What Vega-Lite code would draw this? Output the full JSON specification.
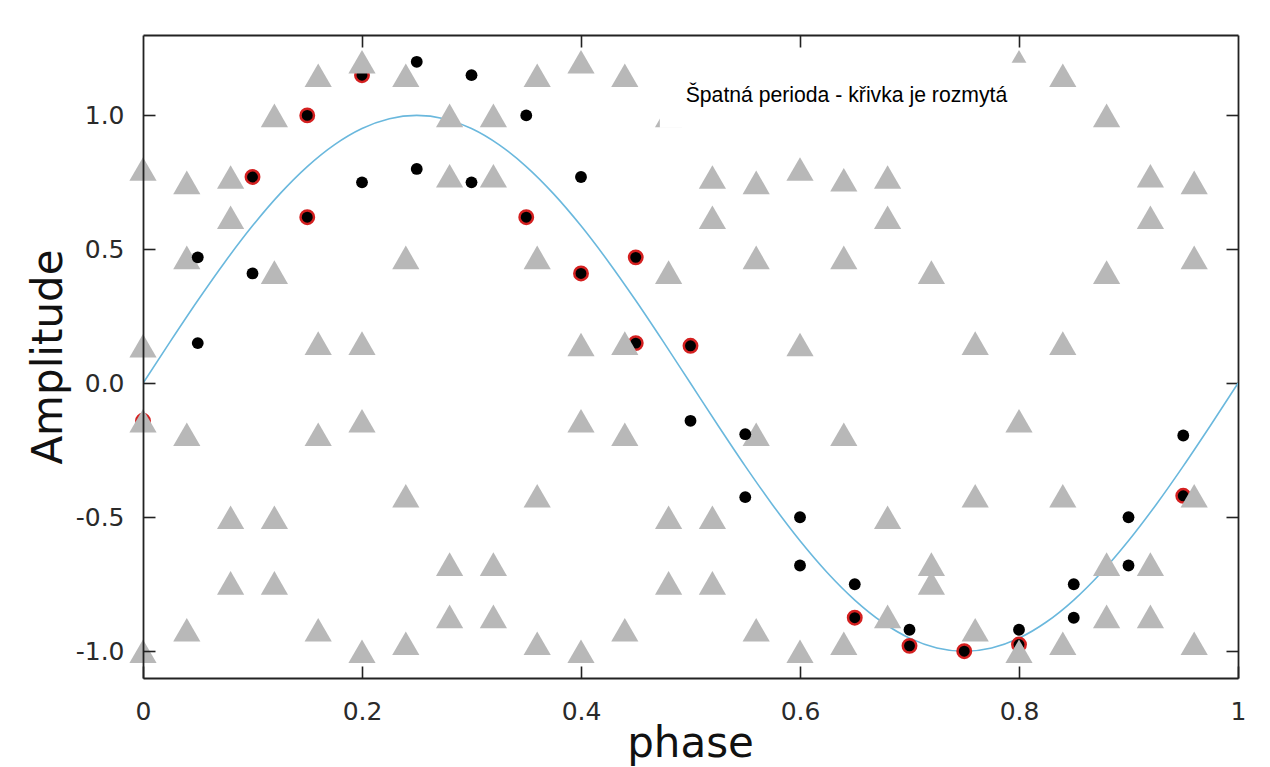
{
  "$schema": "https://vega.github.io/schema/vega-lite/v6.json",
  "width": 1095,
  "height": 643,
  "autosize": "none",
  "padding": {"left": 143, "top": 35, "right": 32, "bottom": 89},
  "background": "white",
  "config": {"view": {"stroke": null}, "font": "DejaVu Sans"},
  "datasets": {
    "curve": [
      {"phase": 0, "amp": 0}, {"phase": 0.025, "amp": 0.1564}, {"phase": 0.05, "amp": 0.309}, {"phase": 0.075, "amp": 0.454},
      {"phase": 0.1, "amp": 0.5878}, {"phase": 0.125, "amp": 0.7071}, {"phase": 0.15, "amp": 0.809}, {"phase": 0.175, "amp": 0.891},
      {"phase": 0.2, "amp": 0.9511}, {"phase": 0.225, "amp": 0.9877}, {"phase": 0.25, "amp": 1}, {"phase": 0.275, "amp": 0.9877},
      {"phase": 0.3, "amp": 0.9511}, {"phase": 0.325, "amp": 0.891}, {"phase": 0.35, "amp": 0.809}, {"phase": 0.375, "amp": 0.7071},
      {"phase": 0.4, "amp": 0.5878}, {"phase": 0.425, "amp": 0.454}, {"phase": 0.45, "amp": 0.309}, {"phase": 0.475, "amp": 0.1564},
      {"phase": 0.5, "amp": 0}, {"phase": 0.525, "amp": -0.1564}, {"phase": 0.55, "amp": -0.309}, {"phase": 0.575, "amp": -0.454},
      {"phase": 0.6, "amp": -0.5878}, {"phase": 0.625, "amp": -0.7071}, {"phase": 0.65, "amp": -0.809}, {"phase": 0.675, "amp": -0.891},
      {"phase": 0.7, "amp": -0.9511}, {"phase": 0.725, "amp": -0.9877}, {"phase": 0.75, "amp": -1}, {"phase": 0.775, "amp": -0.9877},
      {"phase": 0.8, "amp": -0.9511}, {"phase": 0.825, "amp": -0.891}, {"phase": 0.85, "amp": -0.809}, {"phase": 0.875, "amp": -0.7071},
      {"phase": 0.9, "amp": -0.5878}, {"phase": 0.925, "amp": -0.454}, {"phase": 0.95, "amp": -0.309}, {"phase": 0.975, "amp": -0.1564},
      {"phase": 1, "amp": 0}
    ],
    "red": [
      {"phase": 0, "amp": -0.14}, {"phase": 0.1, "amp": 0.77}, {"phase": 0.15, "amp": 1.0}, {"phase": 0.15, "amp": 0.62},
      {"phase": 0.2, "amp": 1.15}, {"phase": 0.35, "amp": 0.62}, {"phase": 0.4, "amp": 0.41}, {"phase": 0.45, "amp": 0.47},
      {"phase": 0.45, "amp": 0.15}, {"phase": 0.5, "amp": 0.14}, {"phase": 0.65, "amp": -0.875}, {"phase": 0.7, "amp": -0.98},
      {"phase": 0.75, "amp": -1.0}, {"phase": 0.8, "amp": -0.975}, {"phase": 0.95, "amp": -0.42}
    ],
    "tri": [
      {"phase": 0, "amp": 0.8}, {"phase": 0, "amp": 0.14}, {"phase": 0, "amp": -0.14}, {"phase": 0, "amp": -1.0},
      {"phase": 0.04, "amp": 0.75}, {"phase": 0.04, "amp": 0.47}, {"phase": 0.04, "amp": -0.19}, {"phase": 0.04, "amp": -0.92},
      {"phase": 0.08, "amp": 0.77}, {"phase": 0.08, "amp": 0.62}, {"phase": 0.08, "amp": -0.5}, {"phase": 0.08, "amp": -0.745},
      {"phase": 0.12, "amp": 1.0}, {"phase": 0.12, "amp": 0.415}, {"phase": 0.12, "amp": -0.5}, {"phase": 0.12, "amp": -0.745},
      {"phase": 0.16, "amp": 1.15}, {"phase": 0.16, "amp": 0.15}, {"phase": 0.16, "amp": -0.19}, {"phase": 0.16, "amp": -0.92},
      {"phase": 0.2, "amp": 1.2}, {"phase": 0.2, "amp": 0.15}, {"phase": 0.2, "amp": -0.14}, {"phase": 0.2, "amp": -1.0},
      {"phase": 0.24, "amp": 1.15}, {"phase": 0.24, "amp": 0.47}, {"phase": 0.24, "amp": -0.42}, {"phase": 0.24, "amp": -0.97},
      {"phase": 0.28, "amp": 1.0}, {"phase": 0.28, "amp": 0.775}, {"phase": 0.28, "amp": -0.675}, {"phase": 0.28, "amp": -0.87},
      {"phase": 0.32, "amp": 1.0}, {"phase": 0.32, "amp": 0.775}, {"phase": 0.32, "amp": -0.675}, {"phase": 0.32, "amp": -0.87},
      {"phase": 0.36, "amp": 1.15}, {"phase": 0.36, "amp": 0.47}, {"phase": 0.36, "amp": -0.42}, {"phase": 0.36, "amp": -0.97},
      {"phase": 0.4, "amp": 1.2}, {"phase": 0.4, "amp": 0.145}, {"phase": 0.4, "amp": -0.14}, {"phase": 0.4, "amp": -1.0},
      {"phase": 0.44, "amp": 1.15}, {"phase": 0.44, "amp": 0.15}, {"phase": 0.44, "amp": -0.19}, {"phase": 0.44, "amp": -0.92},
      {"phase": 0.48, "amp": 1.0}, {"phase": 0.48, "amp": 0.415}, {"phase": 0.48, "amp": -0.5}, {"phase": 0.48, "amp": -0.745},
      {"phase": 0.52, "amp": 0.77}, {"phase": 0.52, "amp": 0.62}, {"phase": 0.52, "amp": -0.5}, {"phase": 0.52, "amp": -0.745},
      {"phase": 0.56, "amp": 0.75}, {"phase": 0.56, "amp": 0.47}, {"phase": 0.56, "amp": -0.19}, {"phase": 0.56, "amp": -0.92},
      {"phase": 0.6, "amp": 0.8}, {"phase": 0.6, "amp": 0.145}, {"phase": 0.6, "amp": -1.0},
      {"phase": 0.64, "amp": 0.76}, {"phase": 0.64, "amp": 0.47}, {"phase": 0.64, "amp": -0.19}, {"phase": 0.64, "amp": -0.97},
      {"phase": 0.68, "amp": 0.77}, {"phase": 0.68, "amp": 0.62}, {"phase": 0.68, "amp": -0.5}, {"phase": 0.68, "amp": -0.87},
      {"phase": 0.72, "amp": 0.415}, {"phase": 0.72, "amp": -0.675}, {"phase": 0.72, "amp": -0.745},
      {"phase": 0.76, "amp": 0.15}, {"phase": 0.76, "amp": -0.42}, {"phase": 0.76, "amp": -0.92},
      {"phase": 0.8, "amp": 1.2}, {"phase": 0.8, "amp": -0.14}, {"phase": 0.8, "amp": -1.0},
      {"phase": 0.84, "amp": 1.15}, {"phase": 0.84, "amp": 0.15}, {"phase": 0.84, "amp": -0.42}, {"phase": 0.84, "amp": -0.97},
      {"phase": 0.88, "amp": 1.0}, {"phase": 0.88, "amp": 0.415}, {"phase": 0.88, "amp": -0.675}, {"phase": 0.88, "amp": -0.87},
      {"phase": 0.92, "amp": 0.775}, {"phase": 0.92, "amp": 0.62}, {"phase": 0.92, "amp": -0.675}, {"phase": 0.92, "amp": -0.87},
      {"phase": 0.96, "amp": 0.75}, {"phase": 0.96, "amp": 0.47}, {"phase": 0.96, "amp": -0.42}, {"phase": 0.96, "amp": -0.97}
    ],
    "black": [
      {"phase": 0.05, "amp": 0.47}, {"phase": 0.05, "amp": 0.15}, {"phase": 0.1, "amp": 0.41}, {"phase": 0.2, "amp": 0.75},
      {"phase": 0.25, "amp": 1.2}, {"phase": 0.25, "amp": 0.8}, {"phase": 0.3, "amp": 1.15}, {"phase": 0.3, "amp": 0.75},
      {"phase": 0.35, "amp": 1.0}, {"phase": 0.4, "amp": 0.77}, {"phase": 0.5, "amp": -0.14}, {"phase": 0.55, "amp": -0.19},
      {"phase": 0.55, "amp": -0.425}, {"phase": 0.6, "amp": -0.5}, {"phase": 0.6, "amp": -0.68}, {"phase": 0.65, "amp": -0.75},
      {"phase": 0.7, "amp": -0.92}, {"phase": 0.8, "amp": -0.92}, {"phase": 0.85, "amp": -0.75}, {"phase": 0.85, "amp": -0.875},
      {"phase": 0.9, "amp": -0.5}, {"phase": 0.9, "amp": -0.68}, {"phase": 0.95, "amp": -0.195}
    ],
    "note": [
      {"x1": 0.472, "x2": 0.814, "y1": 0.954, "y2": 1.196, "tx": 0.4956, "ty": 1.049, "label": "Špatná perioda - křivka je rozmytá"}
    ]
  },
  "resolve": {"axis": {"x": "independent", "y": "independent"}},
  "layer": [
    {
      "data": {"name": "curve"},
      "mark": {"type": "line", "color": "#6ab8dd", "strokeWidth": 1.6, "interpolate": "monotone", "clip": true},
      "encoding": {
        "x": {"field": "phase", "type": "quantitative",
          "scale": {"domain": [0, 1], "nice": false, "zero": false},
          "axis": {"orient": "bottom", "title": "phase", "values": [0, 0.2, 0.4, 0.6, 0.8, 1], "format": "~g",
            "grid": false, "domainColor": "#222222", "domainWidth": 1.8, "tickColor": "#222222", "tickWidth": 1.6,
            "tickSize": -12, "labelPadding": 33, "labelFontSize": 25, "labelColor": "#2a2a2a", "labelFont": "DejaVu Sans",
            "labelFlush": false, "titleFontSize": 42, "titleFontWeight": "normal", "titleColor": "#111111", "titleFont": "DejaVu Sans",
            "titleX": 547, "titleY": 78, "titleAlign": "center", "titleBaseline": "alphabetic", "zindex": 2}},
        "y": {"field": "amp", "type": "quantitative",
          "scale": {"domain": [-1.1, 1.3], "nice": false, "zero": false},
          "axis": {"orient": "left", "title": "Amplitude", "values": [-1, -0.5, 0, 0.5, 1],
            "labelExpr": "replace(format(datum.value, '.1f'), '\u2212', '-')",
            "grid": false, "domainColor": "#222222", "domainWidth": 1.8, "tickColor": "#222222", "tickWidth": 1.6,
            "tickSize": -12, "labelPadding": 31, "labelFontSize": 25, "labelColor": "#2a2a2a", "labelFont": "DejaVu Sans",
            "labelFlush": false, "titleFontSize": 42, "titleFontWeight": "normal", "titleColor": "#111111", "titleFont": "DejaVu Sans",
            "titleX": -82, "titleY": 321.5, "titleAngle": 270, "titleAlign": "center", "titleBaseline": "alphabetic", "zindex": 2}}
      }
    },
    {
      "data": {"name": "red"},
      "mark": {"type": "point", "shape": "circle", "filled": true, "fill": "#000000", "stroke": "#d42020", "strokeWidth": 2.5, "size": 180, "opacity": 1},
      "encoding": {
        "x": {"field": "phase", "type": "quantitative", "scale": {"domain": [0, 1], "nice": false, "zero": false}, "axis": null},
        "y": {"field": "amp", "type": "quantitative", "scale": {"domain": [-1.1, 1.3], "nice": false, "zero": false}, "axis": null}
      }
    },
    {
      "data": {"name": "tri"},
      "mark": {"type": "point", "shape": "triangle-up", "filled": true, "color": "#b8b8b8", "size": 740, "opacity": 1},
      "encoding": {
        "x": {"field": "phase", "type": "quantitative", "scale": {"domain": [0, 1], "nice": false, "zero": false}, "axis": null},
        "y": {"field": "amp", "type": "quantitative", "scale": {"domain": [-1.1, 1.3], "nice": false, "zero": false}, "axis": null}
      }
    },
    {
      "data": {"name": "black"},
      "mark": {"type": "point", "shape": "circle", "filled": true, "color": "#000000", "size": 140, "opacity": 1},
      "encoding": {
        "x": {"field": "phase", "type": "quantitative", "scale": {"domain": [0, 1], "nice": false, "zero": false},
          "axis": {"orient": "top", "title": null, "labels": false, "values": [0.2, 0.4, 0.6, 0.8], "grid": false,
            "domainColor": "#222222", "domainWidth": 1.8, "tickColor": "#222222", "tickWidth": 1.6, "tickSize": -12}},
        "y": {"field": "amp", "type": "quantitative", "scale": {"domain": [-1.1, 1.3], "nice": false, "zero": false},
          "axis": {"orient": "right", "title": null, "labels": false, "values": [-1, -0.5, 0, 0.5, 1], "grid": false,
            "domainColor": "#222222", "domainWidth": 1.8, "tickColor": "#222222", "tickWidth": 1.6, "tickSize": -12}}
      }
    },
    {
      "data": {"name": "note"},
      "mark": {"type": "rect", "color": "#ffffff", "opacity": 1},
      "encoding": {
        "x": {"field": "x1", "type": "quantitative", "scale": {"domain": [0, 1], "nice": false, "zero": false}, "axis": null},
        "x2": {"field": "x2"},
        "y": {"field": "y1", "type": "quantitative", "scale": {"domain": [-1.1, 1.3], "nice": false, "zero": false}, "axis": null},
        "y2": {"field": "y2"}
      }
    },
    {
      "data": {"name": "note"},
      "mark": {"type": "text", "font": "Liberation Sans", "fontSize": 21.2, "color": "#000000", "align": "left", "baseline": "alphabetic"},
      "encoding": {
        "x": {"field": "tx", "type": "quantitative", "scale": {"domain": [0, 1], "nice": false, "zero": false}, "axis": null},
        "y": {"field": "ty", "type": "quantitative", "scale": {"domain": [-1.1, 1.3], "nice": false, "zero": false}, "axis": null},
        "text": {"field": "label"}
      }
    }
  ]
}
